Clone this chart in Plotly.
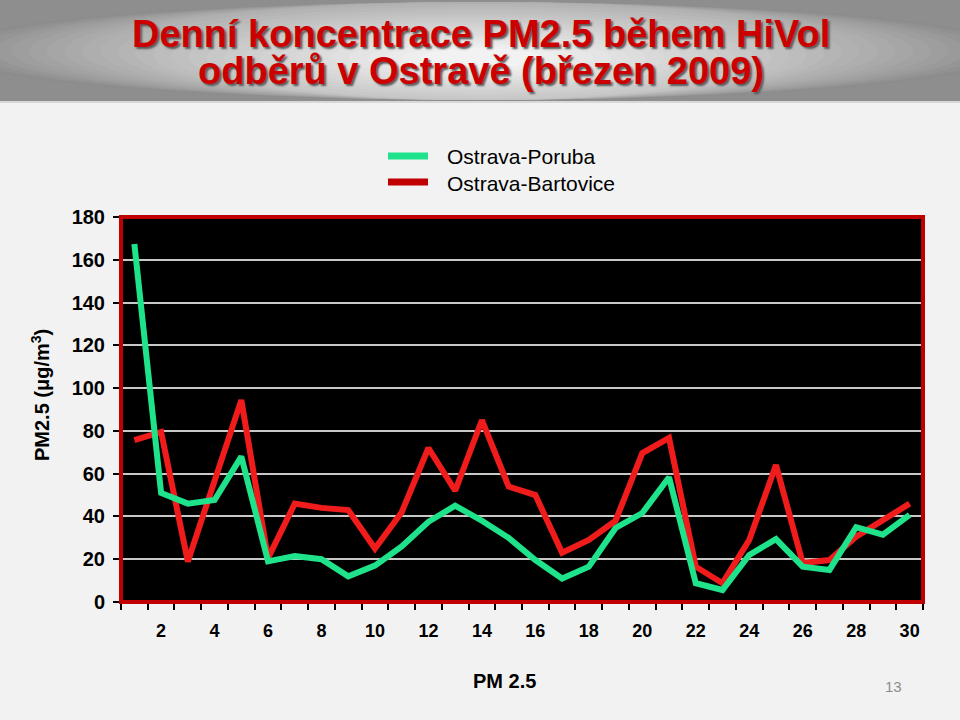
import plotly.graph_objects as go

days = list(range(1, 31))
poruba = [167.4, 51, 46, 47.7, 68, 19, 21.5, 20, 12, 17,
          26, 37.5, 45, 38, 30, 19.6, 11, 16.5, 34.6, 41.6,
          58.3, 8.8, 5.6, 22, 29.4, 16.5, 15, 35, 31.5, 40.7]
bartovice = [75.7, 79.5, 18.9, 56.5, 94.4, 20.5, 46, 44, 43, 25,
             42, 72, 52, 85, 54, 50, 23, 29, 38, 69.6,
             76.7, 16.5, 8.8, 29, 64, 18.2, 19.6, 30.5, 38.5, 46]
xtick_labels = [str(d) for d in range(2, 31, 2)]
ytick_values = list(range(0, 181, 20))

title_line1 = "Denní koncentrace PM2.5 během HiVol"
title_line2 = "odběrů v Ostravě (březen 2009)"
series_names = ["Ostrava-Poruba", "Ostrava-Bartovice"]

GREEN = "#1FE38B"
RED = "#F01C1C"
RED_DARK = "#C00000"

W, H = 960, 720
ML, MR, MT, MB = 121, 37, 217, 118
PW, PH = W - ML - MR, H - MT - MB


def px(x):
    return (x - ML) / PW


def py(y):
    return (H - MB - y) / PH


fig = go.Figure()
fig.add_trace(go.Scatter(x=days, y=bartovice, mode="lines", name=series_names[1],
                         line=dict(color=RED, width=6), showlegend=False))
fig.add_trace(go.Scatter(x=days, y=poruba, mode="lines", name=series_names[0],
                         line=dict(color=GREEN, width=6), showlegend=False))

shapes = []
# header gradient
shapes.append(dict(type="rect", xref="paper", yref="paper", x0=px(0), x1=px(W), y0=py(101), y1=py(0),
                   fillcolor="#8E8E8E", line=dict(width=0), layer="below"))
N = 28
for i in range(N):
    t = i / (N - 1)
    hw = 540 * (1 - t) + 60 * t
    hh = 80 * (1 - t) + 10 * t
    cx, cy = 480, 58
    c = int(140 + (242 - 140) * t ** 0.9)
    shapes.append(dict(type="circle", xref="paper", yref="paper",
                       x0=px(cx - hw), x1=px(cx + hw),
                       y0=py(min(cy + hh, 100)), y1=py(max(cy - hh, 2)),
                       fillcolor=f"rgb({c},{c},{c})", line=dict(width=0), layer="below"))
# cover overflow below header
shapes.append(dict(type="rect", xref="paper", yref="paper", x0=px(0), x1=px(W), y0=py(103), y1=py(101),
                   fillcolor="#D8D8D8", line=dict(width=0), layer="below"))
# plot border
shapes.append(dict(type="rect", xref="paper", yref="paper", x0=0, x1=1, y0=0, y1=1,
                   line=dict(color=RED_DARK, width=4), layer="above"))
# legend lines
shapes.append(dict(type="line", xref="paper", yref="paper", x0=px(388), x1=px(428), y0=py(156), y1=py(156),
                   line=dict(color=GREEN, width=7)))
shapes.append(dict(type="line", xref="paper", yref="paper", x0=px(388), x1=px(428), y0=py(182), y1=py(182),
                   line=dict(color=RED_DARK, width=7)))

annotations = []
tfont = dict(family="Liberation Sans, Arial, sans-serif", size=38, color="#CC0000",
             shadow="2px 2px 2px #5a5a5a")
annotations.append(dict(text="<b>" + title_line1 + "</b>", xref="paper", yref="paper", x=px(481), y=py(34),
                        xanchor="center", yanchor="middle", showarrow=False, font=tfont))
annotations.append(dict(text="<b>" + title_line2 + "</b>", xref="paper", yref="paper", x=px(481), y=py(71),
                        xanchor="center", yanchor="middle", showarrow=False, font=tfont))
lfont = dict(family="Liberation Sans, Arial, sans-serif", size=21, color="black")
annotations.append(dict(text=series_names[0], xref="paper", yref="paper", x=px(445), y=py(156),
                        xanchor="left", yanchor="middle", showarrow=False, font=lfont))
annotations.append(dict(text=series_names[1], xref="paper", yref="paper", x=px(445), y=py(183),
                        xanchor="left", yanchor="middle", showarrow=False, font=lfont))
annotations.append(dict(text="<b>PM2.5 (μg/m<sup>3</sup>)</b>", xref="paper", yref="paper", x=px(40), y=py(395),
                        xanchor="center", yanchor="middle", textangle=-90, showarrow=False,
                        font=dict(family="Liberation Sans, Arial, sans-serif", size=20, color="black")))
annotations.append(dict(text="<b>PM 2.5</b>", xref="paper", yref="paper", x=px(504), y=py(681),
                        xanchor="center", yanchor="middle", showarrow=False,
                        font=dict(family="Liberation Sans, Arial, sans-serif", size=20, color="black")))
annotations.append(dict(text="13", xref="paper", yref="paper", x=px(893), y=py(686),
                        xanchor="center", yanchor="middle", showarrow=False,
                        font=dict(family="Liberation Sans, Arial, sans-serif", size=15, color="#8C8C8C")))

fig.update_layout(
    width=W, height=H, autosize=False,
    margin=dict(l=ML, r=MR, t=MT, b=MB, pad=0),
    paper_bgcolor="#F2F2F2", plot_bgcolor="black",
    shapes=shapes, annotations=annotations,
    font=dict(family="Liberation Sans, Arial, sans-serif", color="black"),
    xaxis=dict(range=[0.5, 30.5], tickmode="array", tickvals=list(range(2, 31, 2)), ticktext=xtick_labels,
               ticks="outside", ticklen=7, tickcolor="rgba(0,0,0,0)", showgrid=False, zeroline=False,
               showline=False, ticklabelstandoff=5,
               tickfont=dict(size=18, color="black", weight="bold"),
               minor=dict(tickmode="array", tickvals=[d + 0.5 for d in range(0, 31)], ticks="outside",
                          ticklen=7, tickwidth=2, tickcolor="black", showgrid=False)),
    yaxis=dict(range=[0, 180], tickmode="array", tickvals=ytick_values, ticks="outside", ticklen=7,
               tickwidth=2, tickcolor="black", showgrid=True, gridcolor="#C8C8C8", gridwidth=1.5,
               zeroline=False, showline=False, ticklabelstandoff=4,
               tickfont=dict(size=20, color="black", weight="bold")),
)

fig.write_html("out.html")
